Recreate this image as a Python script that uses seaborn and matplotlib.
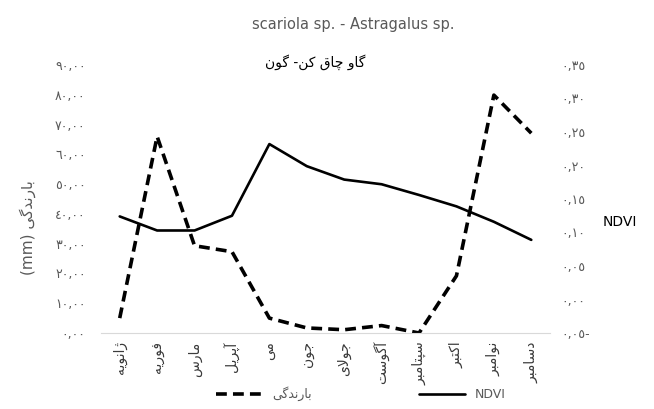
import numpy as np
import pandas as pd
import matplotlib
matplotlib.use('Agg')
from matplotlib import pyplot as plt
import seaborn as sns

sns.set_style('white')
plt.rcParams['font.family'] = ['DejaVu Sans']

# data
months = ['ژانویه', 'فوریه', 'مارس', 'آپریل', 'می', 'جون', 'جولای',
          'آگوست', 'سپتامبر', 'اکتبر', 'نوامبر', 'دسامبر']
rain = [5.0, 66.0, 29.3, 27.3, 5.0, 1.7, 1.1, 2.5, 0.0, 19.2, 79.9, 67.1]
ndvi = [0.124, 0.103, 0.103, 0.125, 0.232, 0.199, 0.179, 0.172, 0.156,
        0.139, 0.116, 0.089]
rain_ticks = [0, 10, 20, 30, 40, 50, 60, 70, 80, 90]
ndvi_ticks = [-0.05, 0.0, 0.05, 0.10, 0.15, 0.20, 0.25, 0.30, 0.35]

title = 'scariola sp. - Astragalus sp.'
subtitle = 'گاو چاق کن- گون'
rain_name = 'بارندگی'

# matplotlib does no Arabic shaping, so pick presentation forms by hand
FORMS = {
    'ا': (0xFE8D, 0xFE8E), 'آ': (0xFE81, 0xFE82), 'د': (0xFEA9, 0xFEAA),
    'ر': (0xFEAD, 0xFEAE), 'ز': (0xFEAF, 0xFEB0), 'ژ': (0xFB8A, 0xFB8B),
    'و': (0xFEED, 0xFEEE),
    'ب': (0xFE8F, 0xFE90, 0xFE91, 0xFE92), 'پ': (0xFB56, 0xFB57, 0xFB58, 0xFB59),
    'ت': (0xFE95, 0xFE96, 0xFE97, 0xFE98), 'ج': (0xFE9D, 0xFE9E, 0xFE9F, 0xFEA0),
    'چ': (0xFB7A, 0xFB7B, 0xFB7C, 0xFB7D), 'س': (0xFEB1, 0xFEB2, 0xFEB3, 0xFEB4),
    'ف': (0xFED1, 0xFED2, 0xFED3, 0xFED4), 'ق': (0xFED5, 0xFED6, 0xFED7, 0xFED8),
    'ک': (0xFB8E, 0xFB8F, 0xFB90, 0xFB91), 'گ': (0xFB92, 0xFB93, 0xFB94, 0xFB95),
    'ل': (0xFEDD, 0xFEDE, 0xFEDF, 0xFEE0), 'م': (0xFEE1, 0xFEE2, 0xFEE3, 0xFEE4),
    'ن': (0xFEE5, 0xFEE6, 0xFEE7, 0xFEE8), 'ه': (0xFEE9, 0xFEEA, 0xFEEB, 0xFEEC),
    'ی': (0xFBFC, 0xFBFD, 0xFBFE, 0xFBFF),
}


def fa(text):
    text = text.replace('ي', 'ی').replace('ك', 'ک')
    glyphs = []
    i = 0
    while i < len(text):
        c = text[i]
        prev = text[i - 1] if i else ''
        joined = len(FORMS.get(prev, ())) == 4
        if c == 'ل' and i + 1 < len(text) and text[i + 1] == 'ا':
            glyphs.append(chr(0xFEFC if joined else 0xFEFB))
            i += 2
            continue
        if c in FORMS:
            f = FORMS[c]
            nxt = text[i + 1] if i + 1 < len(text) else ''
            fwd = len(f) == 4 and nxt in FORMS
            if joined and fwd:
                g = f[3]
            elif joined:
                g = f[1]
            elif fwd:
                g = f[2]
            else:
                g = f[0]
            glyphs.append(chr(g))
        else:
            glyphs.append(c)
        i += 1
    return ''.join(reversed(glyphs))


def fa_num(v):
    s = f"{abs(v):.2f}".replace('.', ',')
    s = s.translate(str.maketrans('0123456789', '٠١٢٣٤٥٦٧٨٩'))
    return s + '-' if v < -1e-9 else s


df = pd.DataFrame({'month': np.arange(len(months)), 'rain': rain, 'ndvi': ndvi})

fig = plt.figure(figsize=(6.54, 4.09), dpi=100)
ax = fig.add_axes([101 / 654, 76 / 409, 449 / 654, 268 / 409])
ax2 = ax.twinx()

sns.lineplot(data=df, x='month', y='rain', ax=ax, color='black', lw=2.6,
             linestyle=(0, (3, 1.7)), label=fa(rain_name), legend=False)
sns.lineplot(data=df, x='month', y='ndvi', ax=ax2, color='black', lw=1.9,
             label='NDVI', legend=False)

ax.set_xlim(-0.5, len(months) - 0.5)
ax.set_ylim(rain_ticks[0], rain_ticks[-1])
ax2.set_ylim(ndvi_ticks[0], ndvi_ticks[-1])

ax.set_xticks(df['month'])
ax.set_xticklabels([fa(m) for m in months], rotation=90)
ax.set_yticks(rain_ticks)
ax.set_yticklabels([fa_num(v) for v in rain_ticks])
ax2.set_yticks(ndvi_ticks)
ax2.set_yticklabels([fa_num(v) for v in ndvi_ticks])

ax.tick_params(axis='x', length=0, pad=6, labelsize=10, labelcolor='#3a3a3a')
ax.tick_params(axis='y', length=0, pad=11, labelsize=9, labelcolor='#595959')
ax2.tick_params(axis='y', length=0, pad=8, labelsize=9, labelcolor='#595959')

for s in ax.spines.values():
    s.set_visible(False)
for s in ax2.spines.values():
    s.set_visible(False)
ax.spines['bottom'].set_visible(True)
ax.spines['bottom'].set_color('#D9D9D9')
ax.spines['bottom'].set_linewidth(0.8)

ax.set_xlabel('')
ax2.set_ylabel('')
ax.set_ylabel('(mm) ' + fa(rain_name), fontsize=11, color='#595959')
ax.yaxis.set_label_coords(-0.145, 0.392)

fig.text(620 / 654, 1 - 222 / 409, 'NDVI', ha='center', va='center',
         fontsize=10, color='black')
fig.text(353 / 654, 1 - 25 / 409, title, ha='center', va='center',
         fontsize=10.5, color='#595959')
fig.text(315 / 654, 1 - 62 / 409, fa(subtitle), ha='center', va='center',
         fontsize=10, color='black')

handles = ax.get_lines()[:1] + ax2.get_lines()[:1]
fig.legend(handles=handles, labels=[h.get_label() for h in handles],
           loc='center', bbox_to_anchor=(361 / 654, 1 - 394 / 409), ncol=2,
           frameon=False, fontsize=9, handlelength=3.7, handletextpad=0.8,
           columnspacing=8.5, labelcolor='#595959')

fig.savefig('out.png', dpi=100)
